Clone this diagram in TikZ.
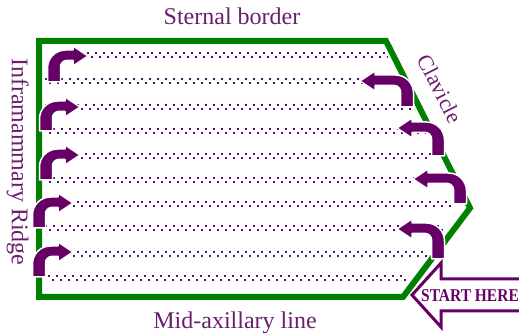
\documentclass[tikz,border=0pt]{standalone}
\usepackage{fontspec}
\setmainfont{Liberation Serif}
\definecolor{grn}{HTML}{008000}
\definecolor{purp}{HTML}{660066}
\definecolor{dotc}{HTML}{4F1466}
\definecolor{txt}{HTML}{6A1F6E}
% bent arrow: stem x, stem bottom y, tip x, tip y, direction (+1 right, -1 left)
\newcommand{\bentarrow}[5]{%
  \fill[purp, draw=white, line width=1.5pt, line join=round]
    ({#1-6.5*#5},#2) -- ({#1-6.5*#5},{#4+12})
    .. controls ({#1-6.5*#5},{#4+2}) and ({#1+1.5*#5},{#4-6}) .. ({#1+11.5*#5},{#4-6})
    -- ({#3-15*#5},{#4-6}) -- ({#3-15*#5},{#4-10}) -- (#3,#4)
    -- ({#3-15*#5},{#4+10}) -- ({#3-15*#5},{#4+4.5}) -- ({#1+12.5*#5},{#4+4.5})
    .. controls ({#1+9.2*#5},{#4+4.5}) and ({#1+6.5*#5},{#4+7.8}) .. ({#1+6.5*#5},{#4+10.5})
    -- ({#1+6.5*#5},#2) -- cycle;}
% dotted band: y, x start, x end
\newcommand{\dotband}[3]{%
  \draw[dotrow] (#2,{#1-2.3}) -- (#3,{#1-2.3});
  \draw[dotrow, dash phase=4pt] (#2,{#1+2.3}) -- (#3,{#1+2.3});}
\begin{document}
\begin{tikzpicture}[x=1pt,y=-1pt,
  lbl/.style={text=txt, font=\fontsize{24}{24}\selectfont, inner sep=0pt},
  dotrow/.style={dotc, line width=2pt, dash pattern=on 2pt off 6pt},
  border/.style={grn, line width=6pt, line join=miter}]
\useasboundingbox (0,0) rectangle (519,336);
\clip (0,0) rectangle (519,336);
% outline
\draw[border] (39,41) -- (386,41) -- (470,208) -- (403,297) -- (39,297) -- cycle;
% dotted bands
\dotband{55}{55}{388}
\dotband{81}{45}{400}
\dotband{107}{45}{414}
\dotband{131}{45}{426}
\dotband{156}{45}{432}
\dotband{180}{45}{450}
\dotband{204}{45}{455}
\dotband{228}{45}{443}
\dotband{254}{45}{428}
\dotband{278}{48}{408}
% left arrows
\bentarrow{54}{82}{88}{56}{1}
\bentarrow{46}{131}{80}{107}{1}
\bentarrow{46}{180}{80}{155}{1}
\bentarrow{39}{228}{73}{203}{1}
\bentarrow{39}{277}{73}{252}{1}
% right arrows
\bentarrow{407}{107}{360}{81}{-1}
\bentarrow{438}{156}{397}{128}{-1}
\bentarrow{460}{204}{413}{179}{-1}
\bentarrow{438}{259}{397}{229}{-1}
% start arrow
\draw[purp, line width=3pt, fill=white, line join=miter]
  (530,279) -- (441,279) -- (441,263) -- (412,295) -- (441,327) -- (441,311) -- (530,311);
\node[text=purp, font=\bfseries\fontsize{18}{18}\selectfont, anchor=base west, inner sep=0pt, xscale=0.86]
  (start) at (421,302) {START HERE};
% labels
\node[lbl, anchor=base] (sternal) at (232,25) {Sternal border};
\node[lbl, anchor=base] (midax) at (235,329) {Mid-axillary line};
\node[lbl, anchor=base, rotate=-90] (infra) at (12,162) {Inframammary Ridge};
\node[lbl, font=\fontsize{22}{22}\selectfont, rotate=-63] (clav) at (440,89) {Clavicle};
\end{tikzpicture}
\end{document}
